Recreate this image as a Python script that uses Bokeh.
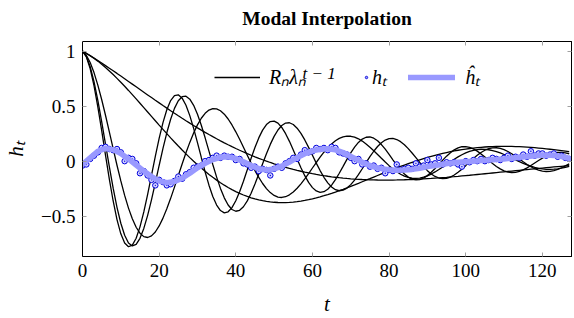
import numpy as np
from bokeh.plotting import figure
from bokeh.models import Range1d, LinearAxis, FixedTicker, Legend, LegendItem, Label
from bokeh.embed import file_html
from bokeh.resources import INLINE

# ---------------- data ----------------
t_steps = list(range(128))

# modal parameters (|lambda_n|, oscillation period in steps, residue R_n)
mode_modulus = [0.980, 0.9807, 0.979, 0.9824, 0.980]
mode_period = [25.0, 27.0, 35.0, 115.9, 192.0]
mode_residue = [1.0, 1.0, 1.0, 1.0, 1.0]

# observed samples h_t
h_obs = [
    -0.04, -0.03, 0.02, 0.05, 0.08, 0.12, 0.13, 0.11, 0.10, 0.11,
    0.08, 0.00, 0.03, 0.02, -0.02, -0.11, -0.09, -0.13, -0.17, -0.22,
    -0.17, -0.19, -0.22, -0.21, -0.18, -0.14, -0.16, -0.12, -0.10, -0.06,
    -0.05, -0.04, 0.00, 0.01, 0.03, 0.05, 0.03, 0.05, 0.04, 0.04,
    0.01, 0.02, -0.02, -0.03, -0.06, -0.05, -0.09, -0.07, -0.08, -0.13,
    -0.07, -0.05, -0.06, -0.02, 0.00, 0.03, 0.02, 0.06, 0.10, 0.08,
    0.09, 0.12, 0.11, 0.12, 0.10, 0.13, 0.12, 0.08, 0.07, 0.06,
    0.03, 0.00, 0.02, -0.03, -0.02, -0.05, -0.04, -0.07, -0.06, -0.11,
    -0.08, -0.09, -0.03, -0.08, -0.07, -0.06, -0.07, -0.02, -0.05, -0.04,
    0.01, -0.03, -0.02, 0.03, -0.03, -0.01, -0.02, -0.01, -0.03, -0.05,
    0.00, -0.01, 0.01, 0.00, 0.02, 0.00, 0.01, 0.03, 0.02, 0.01,
    0.03, 0.05, 0.02, 0.04, 0.03, 0.06, 0.04, 0.09, 0.05, 0.07,
    0.07, 0.05, 0.06, 0.07, 0.04, 0.05, 0.03, 0.02,
]

# fitted interpolation h-hat_t
hhat_t = list(range(0, 128, 2)) + [127]
hhat_vals = [
    -0.03, 0.03, 0.09, 0.115, 0.105, 0.07, 0.02, -0.035, -0.09, -0.14,
    -0.18, -0.195, -0.185, -0.155, -0.11, -0.06, -0.02, 0.015, 0.035, 0.04,
    0.025, -0.005, -0.04, -0.068, -0.08, -0.07, -0.045, -0.008, 0.033, 0.068,
    0.093, 0.108, 0.113, 0.103, 0.078, 0.043, 0.008, -0.027, -0.052, -0.068,
    -0.078, -0.082, -0.08, -0.075, -0.065, -0.05, -0.04, -0.028, -0.018, -0.01,
    -0.005, 0.0, 0.005, 0.01, 0.015, 0.02, 0.027, 0.035, 0.043, 0.05,
    0.053, 0.053, 0.048, 0.035, 0.025,
]

x_ticks = [0, 20, 40, 60, 80, 100, 120]
y_ticks = [-0.5, 0, 0.5, 1]
y_tick_labels = ["\u22120.5", "0", "0.5", "1"]

title_text = "Modal Interpolation"
legend_labels = ["R\u2099\u03bb\u2099", "h\u209c", "\u0125\u209c"]
legend_superscript = "t \u2212 1"

# ---------------- figure ----------------
SERIF = "Liberation Serif"
X_MAX, Y_MIN, Y_MAX = 127.6, -0.867, 1.088

p = figure(width=574, height=318, output_backend="svg", toolbar_location=None,
           x_range=Range1d(0, X_MAX), y_range=Range1d(Y_MIN, Y_MAX),
           min_border_left=82, min_border_right=3, min_border_top=41,
           min_border_bottom=60, title=title_text)
p.background_fill_color = "white"
p.border_fill_color = "white"
p.outline_line_color = "black"
p.outline_line_width = 1
p.grid.visible = False

p.title.align = "center"
p.title.text_font = SERIF
p.title.text_font_style = "bold"
p.title.text_font_size = "19.5px"
p.title.text_color = "black"
p.title.standoff = 2

tt = np.array(t_steps, dtype=float)
mode_renderers = []
for rho, per, res in zip(mode_modulus, mode_period, mode_residue):
    lam = rho * np.exp(1j * 2 * np.pi / per)
    yv = (res * lam ** tt).real
    r = p.line(tt, yv, line_color="black", line_width=1.3)
    mode_renderers.append(r)

h_r = p.scatter(t_steps, h_obs, marker="circle_dot", size=5.5,
                line_color="#0000dd", line_width=1, fill_color="#d0d0ff")
hhat_r = p.line(hhat_t, hhat_vals, line_color="#9999ff", line_width=5.5,
                line_join="round", line_cap="round")

# axes
for ax in (p.xaxis[0], p.yaxis[0]):
    ax.major_tick_in = 4
    ax.major_tick_out = 0
    ax.minor_tick_line_color = None
    ax.major_tick_line_color = "#a0a0a0"
    ax.axis_line_color = "black"
    ax.major_label_text_font = SERIF
    ax.major_label_text_font_size = "19px"
    ax.major_label_text_color = "black"
    ax.axis_label_text_font = SERIF
    ax.axis_label_text_font_style = "italic"
    ax.axis_label_text_font_size = "21px"
    ax.axis_label_text_color = "black"

p.xaxis[0].ticker = FixedTicker(ticks=x_ticks)
p.yaxis[0].ticker = FixedTicker(ticks=y_ticks)
p.yaxis[0].major_label_overrides = {v: s for v, s in zip(y_ticks, y_tick_labels)}
p.xaxis[0].major_label_standoff = 7
p.yaxis[0].major_label_standoff = 7
p.xaxis[0].axis_label = "t"
p.yaxis[0].axis_label = "h\u209c"
p.xaxis[0].axis_label_standoff = 12
p.yaxis[0].axis_label_standoff = 10

# mirrored ticks on top and right (labels are not drawn)
def mirror_axis(ticks):
    return LinearAxis(ticker=FixedTicker(ticks=ticks), major_tick_in=4, major_tick_out=0,
                      minor_tick_line_color=None, major_tick_line_color="#a0a0a0",
                      major_label_text_font_size="0px", major_label_text_color=None,
                      major_label_standoff=0, axis_line_color="black")

p.add_layout(mirror_axis(x_ticks), "above")
p.add_layout(mirror_axis(y_ticks), "right")

# blank spacer band between the frame and the title (white outward ticks)
spacer = LinearAxis(ticker=FixedTicker(ticks=x_ticks), major_tick_in=0, major_tick_out=12,
                    minor_tick_line_color=None, major_tick_line_color="white",
                    major_label_text_font_size="0px", major_label_text_color=None,
                    major_label_standoff=0, axis_line_color=None)
p.add_layout(spacer, "above")

# legend (three single-entry legends placed in a row)
def make_legend(label, rend, loc, gw, standoff):
    return Legend(items=[LegendItem(label=label, renderers=[rend])], location=loc,
                  glyph_width=gw, glyph_height=20, label_standoff=standoff, padding=0, margin=0,
                  spacing=0, border_line_color=None, background_fill_alpha=0,
                  label_text_font=SERIF, label_text_font_style="italic",
                  label_text_font_size="20px", label_text_color="black",
                  label_height=20)

p.add_layout(make_legend(legend_labels[0], mode_renderers[0], (132, 166), 46, 9), "center")
p.add_layout(make_legend(legend_labels[1], h_r, (281, 166), 6, 3), "center")
p.add_layout(make_legend(legend_labels[2], hhat_r, (326, 166), 47, 10), "center")

p.add_layout(Label(x=57.4, y=0.80, text=legend_superscript, text_font=SERIF,
                   text_font_style="italic", text_font_size="17px", text_color="black",
                   text_baseline="middle", text_align="left"))

open("out.html", "w").write(file_html(p, INLINE))
